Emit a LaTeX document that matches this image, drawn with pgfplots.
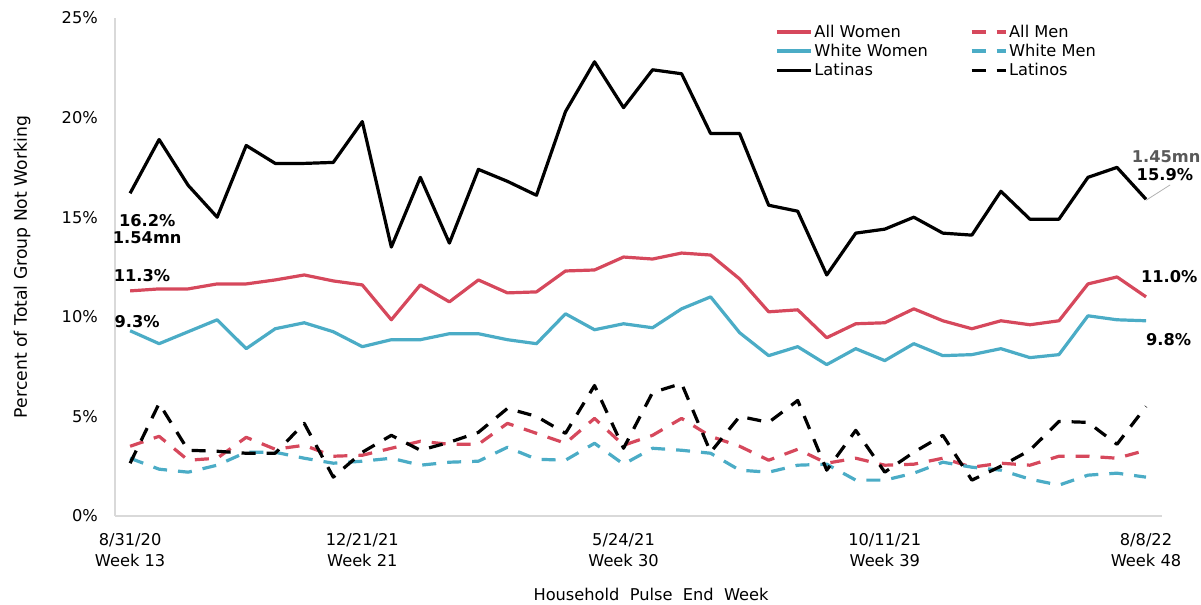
\documentclass[border=0pt]{standalone}
\usepackage{fontspec}
\setmainfont{DejaVu Sans}
\usepackage{pgfplots}
\pgfplotsset{compat=1.18}
\usepackage{pgfplotstable}
\definecolor{cred}{RGB}{214,72,92}
\definecolor{cblue}{RGB}{75,172,198}
\definecolor{axgray}{RGB}{217,217,217}
\definecolor{anngray}{RGB}{89,89,89}

\pgfplotstableread{
x AW AM WW WM LA LO
0 11.3 3.5 9.3 2.9 16.2 2.65
1 11.4 4.0 8.65 2.35 18.9 5.65
2 11.4 2.8 9.25 2.2 16.6 3.3
3 11.65 2.9 9.85 2.55 15.0 3.25
4 11.65 3.95 8.4 3.2 18.6 3.15
5 11.85 3.35 9.4 3.2 17.7 3.15
6 12.1 3.55 9.7 2.9 17.7 4.65
7 11.8 3.0 9.25 2.65 17.75 1.95
8 11.6 3.05 8.5 2.75 19.8 3.2
9 9.85 3.4 8.85 2.9 13.5 4.05
10 11.6 3.75 8.85 2.55 17.0 3.3
11 10.75 3.6 9.15 2.7 13.7 3.7
12 11.85 3.6 9.15 2.75 17.4 4.2
13 11.2 4.65 8.85 3.45 16.8 5.4
14 11.25 4.15 8.65 2.85 16.1 5.0
15 12.3 3.65 10.15 2.8 20.3 4.15
16 12.35 4.9 9.35 3.65 22.8 6.55
17 13.0 3.55 9.65 2.6 20.5 3.4
18 12.9 4.05 9.45 3.4 22.4 6.2
19 13.2 4.9 10.4 3.3 22.2 6.65
20 13.1 4.0 11.0 3.15 19.2 3.2
21 11.9 3.5 9.2 2.3 19.2 5.0
22 10.25 2.8 8.05 2.2 15.6 4.7
23 10.35 3.35 8.5 2.55 15.3 5.8
24 8.95 2.65 7.6 2.6 12.1 2.3
25 9.65 2.9 8.4 1.8 14.2 4.3
26 9.7 2.55 7.8 1.8 14.4 2.2
27 10.4 2.6 8.65 2.15 15.0 3.2
28 9.8 2.9 8.05 2.7 14.2 4.05
29 9.4 2.45 8.1 2.45 14.1 1.8
30 9.8 2.65 8.4 2.3 16.3 2.5
31 9.6 2.55 7.95 1.85 14.9 3.3
32 9.8 3.0 8.1 1.55 14.9 4.75
33 11.65 3.0 10.05 2.05 17.0 4.7
34 12.0 2.9 9.85 2.15 17.5 3.6
35 11.0 3.3 9.8 1.95 15.9 5.5
}\data

\newcommand{\fs}{\fontsize{16.3}{21}\selectfont}

\begin{document}
\begin{tikzpicture}[x=1bp,y=1bp]
\path[use as bounding box] (-115,-89) rectangle (1086,516);
\begin{axis}[
  at={(0,0)}, anchor=south west,
  width=1047bp, height=498bp, scale only axis,
  xmin=-0.52, xmax=35.55, ymin=0, ymax=25,
  axis x line*=bottom, axis y line*=left,
  axis line style={axgray, line width=1.2bp, -},
  major tick length=0pt,
  tick style={draw=none},
  clip=false,
  /pgf/number format/assume math mode=true,
  font=\fs,
  ytick={0,5,10,15,20,25},
  yticklabel={\pgfmathprintnumber{\tick}\%},
  yticklabel style={anchor=east, inner sep=0pt, xshift=-17bp, font=\fs},
  xtick={0,8,17,26,35},
  xticklabels={{8/31/20\\Week 13},{12/21/21\\Week 21},{5/24/21\\Week 30},{10/11/21\\Week 39},{8/8/22\\Week 48}},
  xticklabel style={align=center, anchor=north, inner sep=0pt, yshift=-17bp, font=\fs},
  xlabel={Household\ \ Pulse\ \ End\ \ Week},
  xlabel style={at={(axis description cs:0.512,0)}, anchor=center, yshift=-78bp, font=\fs},
  ylabel={Percent of Total Group Not Working},
  ylabel style={at={(axis description cs:-0.0888,0.5)}, anchor=center, font=\fontsize{17.3}{21}\selectfont},
  legend columns=2,
  legend cell align=left,
  legend style={at={(rel axis cs:0.6304,0.99)}, anchor=north west, draw=none, fill=none,
    inner sep=0pt, font=\fs, row sep=1.2bp,
    /tikz/every even column/.append style={column sep=40bp}},
  legend image code/.code={\draw[#1] (0bp,0bp) -- (34bp,0bp);},
  every axis plot/.append style={line width=3.2bp, line join=round},
]
\addplot[cred] table[x=x,y=AW]{\data};
\addlegendentry{All Women}
\addplot[cred, dash pattern=on 14bp off 11bp] table[x=x,y=AM]{\data};
\addlegendentry{All Men}
\addplot[cblue] table[x=x,y=WW]{\data};
\addlegendentry{White Women}
\addplot[cblue, dash pattern=on 14bp off 11bp] table[x=x,y=WM]{\data};
\addlegendentry{White Men}
\addplot[black] table[x=x,y=LA]{\data};
\addlegendentry{Latinas}
\addplot[black, dash pattern=on 14bp off 11bp] table[x=x,y=LO]{\data};
\addlegendentry{Latinos}

\node[font=\fs\bfseries, align=center, text=black] at (axis cs:0.59,14.39) {16.2\%\\[-4bp]1.54mn};
\node[font=\fs\bfseries] at (axis cs:0.41,12.05) {11.3\%};
\node[font=\fs\bfseries] at (axis cs:0.24,9.74) {9.3\%};
\node[font=\fs\bfseries, text=anngray] at (axis cs:35.69,18.02) {1.45mn};
\node[font=\fs\bfseries] at (axis cs:35.65,17.12) {15.9\%};
\draw[gray!60, line width=0.8bp] (axis cs:35,15.85) -- (axis cs:35.83,16.62);
\node[font=\fs\bfseries] at (axis cs:35.8,12.0) {11.0\%};
\node[font=\fs\bfseries] at (axis cs:35.78,8.84) {9.8\%};
\end{axis}
\end{tikzpicture}
\end{document}
